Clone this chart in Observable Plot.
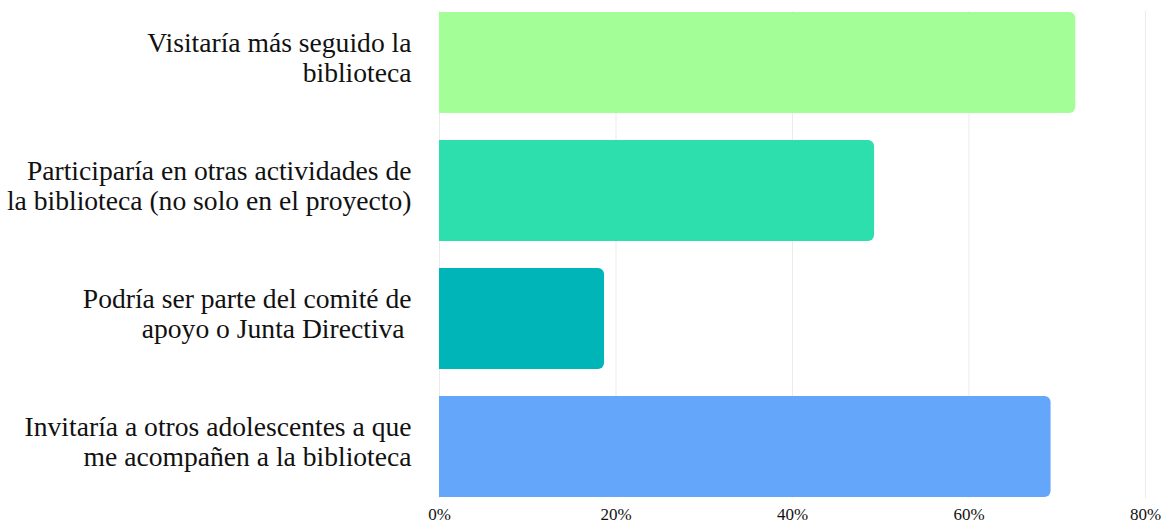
<!DOCTYPE html>
<html>
<head>
<meta charset="utf-8">
<script src="https://cdn.jsdelivr.net/npm/d3@7"></script>
<script src="https://cdn.jsdelivr.net/npm/@observablehq/plot@0.6"></script>
<style>
  html, body { margin: 0; padding: 0; background: #fff; }
  #chart svg { display: block; }
  #chart svg text { font-family: "Liberation Serif", "Times New Roman", serif; }
</style>
</head>
<body>
<div id="chart"></div>
<script>
const categories = [
  "Visitaría más seguido la\nbiblioteca",
  "Participaría en otras actividades de\nla biblioteca (no solo en el proyecto)",
  "Podría ser parte del comité de\napoyo o Junta Directiva ",
  "Invitaría a otros adolescentes a que\nme acompañen a la biblioteca"
];
const values = [72.1, 49.3, 18.7, 69.3];
const colors = ["#a3fe97", "#2ddfad", "#00b5b8", "#63a6fa"];
const xTicks = [0, 20, 40, 60, 80];

const data = categories.map((c, i) => ({category: c, value: values[i], color: colors[i]}));

const chart = Plot.plot({
  width: 1172,
  height: 525,
  marginLeft: 439,
  marginRight: 27,
  marginTop: 11,
  marginBottom: 27,
  style: "background: #fff; color: #111;",
  x: {domain: [0, 80], ticks: xTicks, tickFormat: d => d + "%", tickSize: 0, tickPadding: 9, label: null, fontSize: 17},
  y: {domain: categories, axis: null, paddingInner: 0.21, paddingOuter: 0},
  marks: [
    Plot.gridX(xTicks, {stroke: "#000", strokeOpacity: 0.08}),
    Plot.barX(data, {y: "category", x1: 0, x2: "value", fill: "color", rx: 6}),
    Plot.barX(data, {y: "category", x1: 0, x2: d => d.value / 2, fill: "color"}),
    Plot.text(data, {
      y: "category", x: 0, text: "category", textAnchor: "end", dx: -28, dy: -5.5,
      fontSize: 27.6, lineHeight: 1.07, fill: "#111", fontFamily: "Liberation Serif"
    }),
    Plot.axisX({ticks: xTicks, tickFormat: d => d + "%", tickSize: 0, tickPadding: 9, fontSize: 17, label: null, fontFamily: "Liberation Serif"})
  ]
});
document.getElementById("chart").appendChild(chart);
</script>
</body>
</html>
